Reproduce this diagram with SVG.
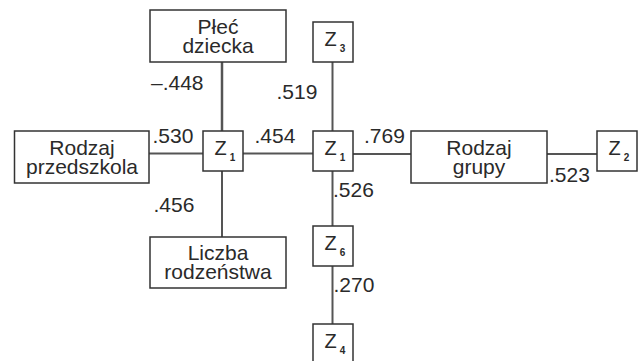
<svg xmlns="http://www.w3.org/2000/svg" width="643" height="361" viewBox="0 0 643 361">
<style>
  .box { fill: #ffffff; stroke: #333333; stroke-width: 1.5; }
  .lbl { font-family: "Liberation Sans", Arial, sans-serif; font-size: 21px; fill: #2a2a2a; text-anchor: middle; }
  .num { font-family: "Liberation Sans", Arial, sans-serif; font-size: 21px; fill: #2a2a2a; }
  .z { font-family: "Liberation Sans", Arial, sans-serif; font-size: 20px; fill: #2a2a2a; }
  .sub { font-size: 10px; font-weight: bold; }
  .conn line { stroke: #555555; stroke-width: 2; }
</style>
<rect width="643" height="361" fill="#ffffff"/>
<g id="connectors" class="conn">
  <line x1="222" y1="62" x2="222" y2="131" style="stroke-width:2.5"/>
  <line x1="149" y1="153.5" x2="203" y2="153.5"/>
  <line x1="222" y1="171" x2="222" y2="237"/>
  <line x1="243" y1="153.5" x2="313" y2="153.5"/>
  <line x1="332.5" y1="62" x2="332.5" y2="131"/>
  <line x1="353" y1="154" x2="411" y2="154"/>
  <line x1="547" y1="154" x2="597" y2="154"/>
  <line x1="332.5" y1="171" x2="332.5" y2="226"/>
  <line x1="332.5" y1="266" x2="332.5" y2="324"/>
</g>
<g id="labels">
  <text class="num" x="151" y="90">–.448</text>
  <text class="num" x="276.5" y="98.5">.519</text>
  <text class="num" x="152.5" y="143.3">.530</text>
  <text class="num" x="254.5" y="143.3">.454</text>
  <text class="num" x="364" y="143.3">.769</text>
  <text class="num" x="549" y="181.7">.523</text>
  <text class="num" x="333" y="197">.526</text>
  <text class="num" x="153.5" y="211.7">.456</text>
  <text class="num" x="333.5" y="291.7">.270</text>
</g>
<g id="plec">
  <rect class="box" x="150" y="10" width="136" height="52"/>
  <text class="lbl" x="218" y="33.5">Płeć</text>
  <text class="lbl" x="218" y="52.5">dziecka</text>
</g>
<g id="rodzaj-przedszkola">
  <rect class="box" x="14.5" y="131" width="134.5" height="52"/>
  <text class="lbl" x="82" y="154.5">Rodzaj</text>
  <text class="lbl" x="82" y="173.5">przedszkola</text>
</g>
<g id="liczba">
  <rect class="box" x="150" y="237" width="136" height="51"/>
  <text class="lbl" x="218" y="260">Liczba</text>
  <text class="lbl" x="218" y="279">rodzeństwa</text>
</g>
<g id="rodzaj-grupy">
  <rect class="box" x="411" y="131" width="136" height="52"/>
  <text class="lbl" x="479" y="154.5">Rodzaj</text>
  <text class="lbl" x="479" y="173.5">grupy</text>
</g>
<g id="z1-left">
  <rect class="box" x="203" y="131" width="40" height="40"/>
  <text class="z" x="214.5" y="154.7">Z<tspan class="sub" dx="3" dy="6.5">1</tspan></text>
</g>
<g id="z1-right">
  <rect class="box" x="313" y="131" width="40" height="40"/>
  <text class="z" x="324.5" y="154.7">Z<tspan class="sub" dx="3" dy="6.5">1</tspan></text>
</g>
<g id="z3">
  <rect class="box" x="313" y="22" width="40" height="40"/>
  <text class="z" x="324.5" y="45.7">Z<tspan class="sub" dx="3" dy="6.5">3</tspan></text>
</g>
<g id="z2">
  <rect class="box" x="597" y="131" width="40" height="40"/>
  <text class="z" x="608.5" y="154.7">Z<tspan class="sub" dx="3" dy="6.5">2</tspan></text>
</g>
<g id="z6">
  <rect class="box" x="313" y="226" width="40" height="40"/>
  <text class="z" x="324.5" y="249.7">Z<tspan class="sub" dx="3" dy="6.5">6</tspan></text>
</g>
<g id="z4">
  <rect class="box" x="313" y="324" width="40" height="40"/>
  <text class="z" x="324.5" y="347.7">Z<tspan class="sub" dx="3" dy="6.5">4</tspan></text>
</g>
</svg>
